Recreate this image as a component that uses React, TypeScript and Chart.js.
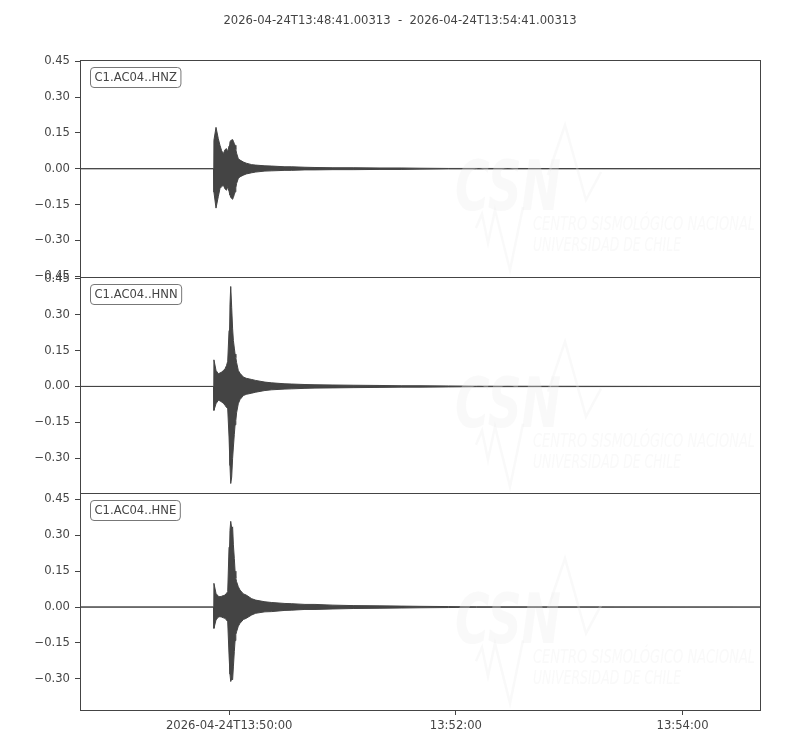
import React, { useEffect, useRef } from "react";
import { Chart, registerables } from "chart.js";

Chart.register(...registerables);

// ---- data (seconds after 2026-04-24T13:48:41.00313) ----
const TITLE = "2026-04-24T13:48:41.00313  -  2026-04-24T13:54:41.00313";
const CHANNELS = ["C1.AC04..HNZ", "C1.AC04..HNN", "C1.AC04..HNE"];

const TIME_S = [
  0, 70.7, 70.9, 72.0, 73.2, 74.1, 75.0, 75.9, 76.8, 77.6, 78.2, 78.9, 79.4, 79.8, 80.3, 80.8,
  81.2, 81.7, 82.1, 82.5, 82.9, 83.8, 84.7, 86.5, 88.0, 90.9, 93.0, 97.9, 101.5, 108.5, 112.1,
  119.1, 124.4, 133.9, 145, 158.8, 170, 180, 195, 210, 360,
];

const HNZ_UPPER = [
  0, 0, 0.119, 0.173, 0.126, 0.098, 0.075, 0.063, 0.08, 0.084, 0.07, 0.095, 0.112, 0.118, 0.12, 0.122,
  0.115, 0.105, 0.098, 0.08, 0.065, 0.042, 0.036, 0.028, 0.023, 0.017, 0.015, 0.012, 0.011, 0.008, 0.008,
  0.006, 0.005, 0.004, 0.004, 0.003, 0.003, 0.002, 0.001, 0.001, 0,
];
const HNZ_LOWER = [
  0, 0, -0.098, -0.165, -0.117, -0.083, -0.075, -0.069, -0.085, -0.09, -0.075, -0.095, -0.11, -0.12, -0.125, -0.128,
  -0.12, -0.108, -0.097, -0.08, -0.062, -0.041, -0.034, -0.027, -0.022, -0.017, -0.014, -0.01, -0.009, -0.007, -0.007,
  -0.005, -0.005, -0.004, -0.004, -0.003, -0.003, -0.002, -0.001, -0.001, 0,
];

const HNN_UPPER = [
  0, 0, 0.111, 0.067, 0.053, 0.056, 0.06, 0.066, 0.074, 0.088, 0.105, 0.233, 0.34, 0.417, 0.33, 0.24,
  0.192, 0.16, 0.135, 0.12, 0.1, 0.067, 0.055, 0.039, 0.034, 0.029, 0.025, 0.018, 0.015, 0.011, 0.01,
  0.008, 0.007, 0.006, 0.005, 0.004, 0.003, 0.003, 0.002, 0.001, 0,
];
const HNN_LOWER = [
  0, 0, -0.1, -0.072, -0.058, -0.06, -0.065, -0.07, -0.079, -0.088, -0.093, -0.211, -0.33, -0.405, -0.378, -0.3,
  -0.253, -0.2, -0.16, -0.142, -0.11, -0.072, -0.055, -0.038, -0.033, -0.028, -0.024, -0.017, -0.014, -0.011, -0.01,
  -0.008, -0.007, -0.006, -0.005, -0.004, -0.003, -0.003, -0.002, -0.001, 0,
];

const HNE_UPPER = [
  0, 0, 0.099, 0.057, 0.045, 0.043, 0.045, 0.048, 0.05, 0.058, 0.064, 0.25, 0.32, 0.358, 0.33, 0.335,
  0.26, 0.203, 0.15, 0.12, 0.106, 0.085, 0.071, 0.055, 0.05, 0.035, 0.029, 0.022, 0.019, 0.015, 0.014,
  0.011, 0.011, 0.008, 0.006, 0.005, 0.004, 0.003, 0.002, 0.001, 0,
];
const HNE_LOWER = [
  0, 0, -0.089, -0.054, -0.042, -0.04, -0.042, -0.045, -0.047, -0.055, -0.061, -0.2, -0.28, -0.311, -0.3, -0.304,
  -0.25, -0.186, -0.14, -0.115, -0.103, -0.08, -0.068, -0.052, -0.047, -0.033, -0.026, -0.02, -0.019, -0.014, -0.013,
  -0.01, -0.01, -0.008, -0.006, -0.005, -0.004, -0.003, -0.002, -0.001, 0,
];

const Y_TICKS = [-0.45, -0.3, -0.15, 0, 0.15, 0.3, 0.45];
const Y_LIMITS_Z = [-0.452, 0.455];
const Y_LIMITS_N = [-0.446, 0.458];
const Y_LIMITS_E = [-0.43, 0.475];

const X_RANGE = [0, 360];
const X_TICKS = [78.99687, 198.99687, 318.99687];
const X_TICK_LABELS = ["2026-04-24T13:50:00", "13:52:00", "13:54:00"];

const WM_LINE1 = "CENTRO SISMOLÓGICO NACIONAL";
const WM_LINE2 = "UNIVERSIDAD DE CHILE";
const WM_LOGO = "CSN";

const INK = "#444444";
const FONT = "DejaVu Sans";
const FS = 11.6;

function pts(up: number[]) {
  return TIME_S.map((t, i) => ({ x: t, y: up[i] }));
}

function fmtY(v: number) {
  const s = Math.abs(v).toFixed(2);
  return v < -1e-9 ? "\u2212" + s : s;
}

const AXIS_IDS = ["yZ", "yN", "yE"];

const decorPlugin = {
  id: "decor",
  afterDatasetsDraw(chart: any) {
    const ctx = chart.ctx;
    const area = chart.chartArea;
    ctx.save();
    AXIS_IDS.forEach((id) => {
      const sc = chart.scales[id];
      const top = sc.top;
      ctx.save();
      ctx.beginPath();
      ctx.rect(area.left, sc.top, area.right - area.left, sc.bottom - sc.top);
      ctx.clip();
      ctx.fillStyle = "rgba(236,236,236,0.3)";
      ctx.strokeStyle = "rgba(236,236,236,0.3)";
      ctx.font = `italic bold 70px "Liberation Sans Narrow", "DejaVu Sans Condensed", sans-serif`;
      ctx.textBaseline = "alphabetic";
      ctx.textAlign = "left";
      ctx.fillText(WM_LOGO, 455, top + 150, 106);
      ctx.font = `italic 20px "Liberation Sans Narrow", "DejaVu Sans Condensed", sans-serif`;
      ctx.fillText(WM_LINE1, 533, top + 170, 222);
      ctx.fillText(WM_LINE2, 533, top + 191, 148);
      ctx.lineWidth = 2.5;
      ctx.lineJoin = "miter";
      ctx.beginPath();
      const a = [[476, 168], [482, 154], [488, 183], [495, 150], [510, 210], [523, 147]];
      a.forEach(([x, y], i) => (i ? ctx.lineTo(x, top + y) : ctx.moveTo(x, top + y)));
      ctx.stroke();
      ctx.beginPath();
      const b = [[548, 115], [565, 65], [586, 140], [601, 112]];
      b.forEach(([x, y], i) => (i ? ctx.lineTo(x, top + y) : ctx.moveTo(x, top + y)));
      ctx.stroke();
      ctx.restore();
    });
    ctx.restore();
  },
  afterDraw(chart: any) {
    const ctx = chart.ctx;
    const area = chart.chartArea;
    ctx.save();
    // title
    ctx.fillStyle = INK;
    ctx.font = `${FS}px "${FONT}"`;
    ctx.textAlign = "center";
    ctx.textBaseline = "middle";
    ctx.fillText(TITLE, 400, 20.5);
    // frames
    ctx.lineWidth = 1;
    const l = Math.round(area.left) + 0.5;
    const r = Math.round(area.right) + 0.5;
    AXIS_IDS.forEach((id, k) => {
      const sc = chart.scales[id];
      const t = Math.round(sc.top) + 0.5;
      const btm = Math.round(sc.bottom) + 0.5;
      ctx.strokeStyle = INK;
      ctx.strokeRect(l, t, r - l, btm - t);
      // label box
      ctx.font = `${FS}px "${FONT}"`;
      const w = ctx.measureText(CHANNELS[k]).width + 8;
      const bx = Math.round(area.left) + 10.5;
      const by = Math.round(sc.top) + 7.5;
      const bh = 20;
      ctx.beginPath();
      ctx.roundRect(bx, by, w, bh, 3.5);
      ctx.fillStyle = "#ffffff";
      ctx.fill();
      ctx.strokeStyle = "#777777";
      ctx.stroke();
      ctx.fillStyle = INK;
      ctx.textAlign = "left";
      ctx.textBaseline = "middle";
      ctx.fillText(CHANNELS[k], bx + 4, by + bh / 2 + 0.5);
    });
    ctx.restore();
  },
};

function yAxis(limits: number[], weight: number) {
  return {
    type: "linear",
    position: "left",
    stack: "traces",
    stackWeight: 1,
    weight,
    min: limits[0],
    max: limits[1],
    border: { display: false },
    grid: { drawOnChartArea: false, drawTicks: true, tickLength: 5, color: INK, lineWidth: 1 },
    ticks: {
      color: INK,
      font: { family: FONT, size: FS },
      padding: 5,
      callback: (v: number) => fmtY(v),
    },
    afterBuildTicks: (scale: any) => {
      scale.ticks = Y_TICKS.filter((v) => v >= scale.min - 1e-9 && v <= scale.max + 1e-9).map((v) => ({ value: v }));
    },
    afterFit: (scale: any) => {
      scale.width = 80;
    },
  };
}

function traceSets(upper: number[], lower: number[], axis: string) {
  const common = {
    yAxisID: axis,
    xAxisID: "x",
    borderColor: INK,
    borderWidth: 1,
    pointRadius: 0,
    tension: 0,
  };
  return [
    { ...common, data: pts(upper), fill: false },
    { ...common, data: pts(lower), fill: "-1", backgroundColor: INK },
  ];
}

export default function App() {
  const ref = useRef<HTMLCanvasElement | null>(null);
  useEffect(() => {
    document.body.style.margin = "0";
    const canvas = ref.current;
    if (!canvas) return;
    const chart = new Chart(canvas, {
      type: "line",
      data: {
        datasets: [
          ...traceSets(HNZ_UPPER, HNZ_LOWER, "yZ"),
          ...traceSets(HNN_UPPER, HNN_LOWER, "yN"),
          ...traceSets(HNE_UPPER, HNE_LOWER, "yE"),
        ] as any,
      },
      options: {
        responsive: false,
        animation: false,
        devicePixelRatio: 1,
        events: [],
        layout: { padding: { top: 60, right: 40, left: 0, bottom: 0 } },
        plugins: { legend: { display: false }, title: { display: false }, tooltip: { enabled: false } },
        scales: {
          x: {
            type: "linear",
            position: "bottom",
            min: X_RANGE[0],
            max: X_RANGE[1],
            border: { display: false },
            grid: { drawOnChartArea: false, drawTicks: true, tickLength: 5, color: INK, lineWidth: 1 },
            ticks: {
              color: INK,
              font: { family: FONT, size: FS },
              padding: 4,
              autoSkip: false,
              maxRotation: 0,
              callback: (v: number) => {
                const i = X_TICKS.findIndex((t) => Math.abs(t - v) < 1e-6);
                return i >= 0 ? X_TICK_LABELS[i] : "";
              },
            },
            afterBuildTicks: (scale: any) => {
              scale.ticks = X_TICKS.map((v) => ({ value: v }));
            },
            afterFit: (scale: any) => {
              scale.height = 40;
            },
          },
          yZ: yAxis(Y_LIMITS_Z, 3),
          yN: yAxis(Y_LIMITS_N, 2),
          yE: yAxis(Y_LIMITS_E, 1),
        } as any,
      },
      plugins: [decorPlugin],
    });
    return () => chart.destroy();
  }, []);
  return (
    <div style={{ width: 800, height: 750, background: "#fff" }}>
      <canvas ref={ref} width={800} height={750} style={{ display: "block" }} />
    </div>
  );
}
